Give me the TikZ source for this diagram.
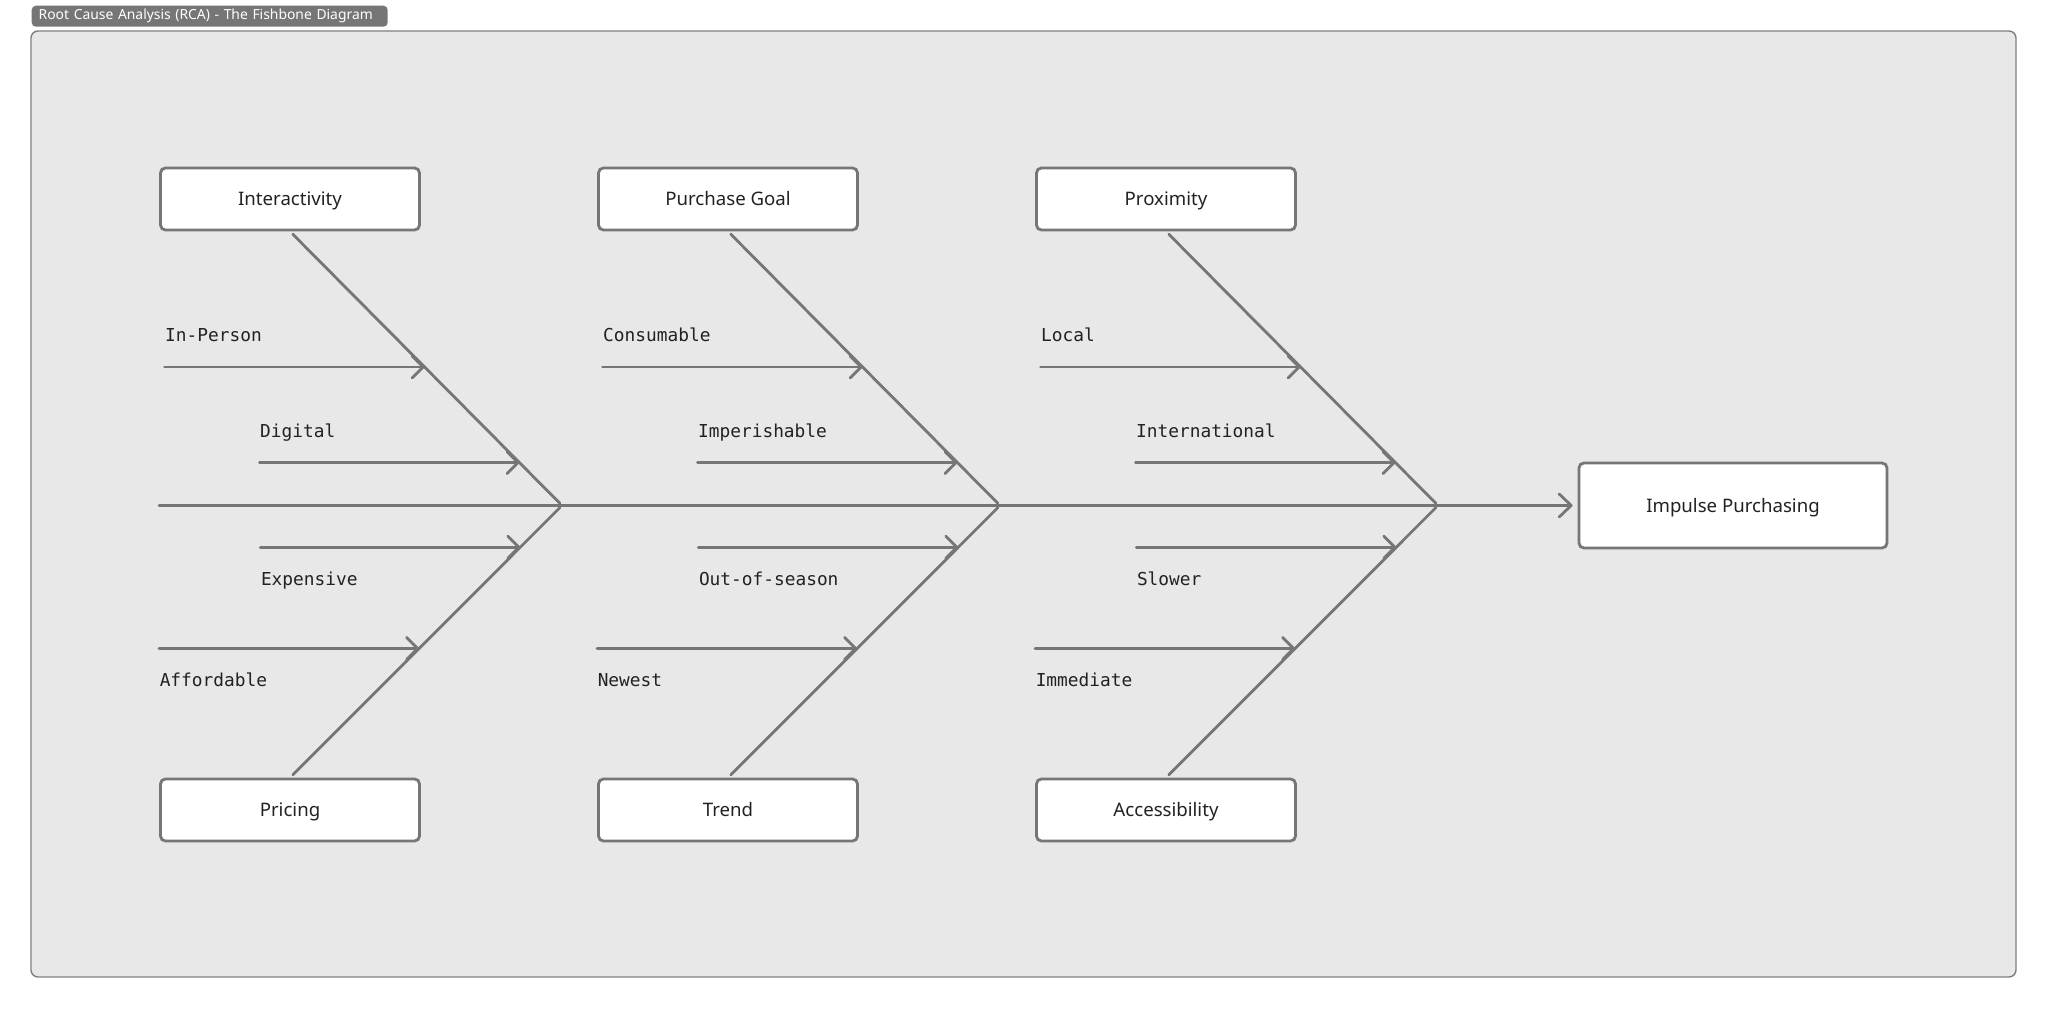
\documentclass[tikz,border=0pt]{standalone}
\usepackage{fontspec}
\setmainfont{Noto Sans}
\newfontfamily\monofont{DejaVu Sans Mono}
\usetikzlibrary{
    arrows.meta,
    calc
}

\definecolor{bonegray}{HTML}{767676}
\definecolor{panelgray}{HTML}{E8E8E8}
\definecolor{textdark}{HTML}{222222}

\tikzset{
    cause/.style={draw=bonegray, line width=0.8pt, fill=white, rounded corners=1.4pt,
        minimum width=2.59cm, minimum height=0.62cm, text=textdark,
        text height=3.8pt, text depth=0pt,
        font=\fontsize{5.3}{6}\selectfont},
    bone/.style={draw=bonegray, line width=0.8pt, line cap=round,
        shorten <=0.04cm, shorten >=0.03cm},
    spine/.style={draw=bonegray, line width=0.8pt, line cap=round, shorten >=0.05cm,
        -{Straight Barb[length=1.2mm,width=2.3mm,round]}},
    subcause/.style={draw=bonegray, line width=0.8pt, line cap=round,
        -{Straight Barb[length=1.1mm,width=2.2mm,round]}},
    lbl/.style={text=textdark, font=\monofont\fontsize{5.07}{6}\selectfont,
        inner sep=0pt, anchor=west, text height=1.8mm, text depth=0.5mm}
}

\begin{document}
\begin{tikzpicture}
\useasboundingbox (0,0) rectangle (20.48,10.10);

% Panel and title tag
\draw[draw=gray, fill=panelgray, line width=0.4pt, rounded corners=2pt] (0.31,0.33) rectangle (20.16,9.79);
\node[fill=bonegray, rounded corners=1.2pt, text=white, font=\fontsize{3.95}{4}\selectfont,
    anchor=north west, text width=3.42cm, inner xsep=0.07cm, inner ysep=0pt,
    minimum height=0.21cm, align=left] (tag) at (0.31,10.05) {Root Cause Analysis (RCA) - The Fishbone Diagram};

% Effect and spine
\node[cause, minimum width=3.08cm, minimum height=0.85cm] (effect) at (17.33,5.045) {Impulse Purchasing};
\coordinate (tail) at (1.59,5.045);
\coordinate (j1) at (5.62,5.045);
\coordinate (j2) at (10.00,5.045);
\coordinate (j3) at (14.38,5.045);
\draw[spine] (tail) -- (effect.west);

% Cause boxes
\node[cause] (interactivity) at (2.90,8.11) {Interactivity};
\node[cause] (pricing) at (2.90,2.00) {Pricing};
\node[cause] (goal) at (7.28,8.11) {Purchase Goal};
\node[cause] (trend) at (7.28,2.00) {Trend};
\node[cause] (proximity) at (11.66,8.11) {Proximity};
\node[cause] (access) at (11.66,2.00) {Accessibility};

% Bones
\draw[bone] (interactivity.south) -- (j1);
\draw[bone] (pricing.north) -- (j1);
\draw[bone] (goal.south) -- (j2);
\draw[bone] (trend.north) -- (j2);
\draw[bone] (proximity.south) -- (j3);
\draw[bone] (access.north) -- (j3);

% Points on the bones
\coordinate (inperson) at ($(interactivity.south)!0.4945!(j1)$);
\coordinate (digital) at ($(interactivity.south)!0.8436!(j1)$);
\coordinate (expensive) at ($(pricing.north)!0.8467!(j1)$);
\coordinate (affordable) at ($(pricing.north)!0.4745!(j1)$);
\coordinate (consumable) at ($(goal.south)!0.4945!(j2)$);
\coordinate (imperishable) at ($(goal.south)!0.8436!(j2)$);
\coordinate (outseason) at ($(trend.north)!0.8467!(j2)$);
\coordinate (newest) at ($(trend.north)!0.4745!(j2)$);
\coordinate (local) at ($(proximity.south)!0.4945!(j3)$);
\coordinate (international) at ($(proximity.south)!0.8436!(j3)$);
\coordinate (slower) at ($(access.north)!0.8467!(j3)$);
\coordinate (immediate) at ($(access.north)!0.4745!(j3)$);

% Sub-causes, group 1
\draw[subcause] ([xshift=-2.6cm]inperson) coordinate (inperson-s) -- (inperson);
\draw[subcause] ([xshift=-2.6cm]digital) coordinate (digital-s) -- (digital);
\draw[subcause] ([xshift=-2.6cm]expensive) coordinate (expensive-s) -- (expensive);
\draw[subcause] ([xshift=-2.6cm]affordable) coordinate (affordable-s) -- (affordable);
\node[lbl] (l-inperson) at ([yshift=0.32cm]inperson-s) {In-Person};
\node[lbl] (l-digital) at ([yshift=0.32cm]digital-s) {Digital};
\node[lbl] (l-expensive) at ([yshift=-0.32cm]expensive-s) {Expensive};
\node[lbl] (l-affordable) at ([yshift=-0.32cm]affordable-s) {Affordable};

% Sub-causes, group 2
\draw[subcause] ([xshift=-2.6cm]consumable) coordinate (consumable-s) -- (consumable);
\draw[subcause] ([xshift=-2.6cm]imperishable) coordinate (imperishable-s) -- (imperishable);
\draw[subcause] ([xshift=-2.6cm]outseason) coordinate (outseason-s) -- (outseason);
\draw[subcause] ([xshift=-2.6cm]newest) coordinate (newest-s) -- (newest);
\node[lbl] (l-consumable) at ([yshift=0.32cm]consumable-s) {Consumable};
\node[lbl] (l-imperishable) at ([yshift=0.32cm]imperishable-s) {Imperishable};
\node[lbl] (l-outseason) at ([yshift=-0.32cm]outseason-s) {Out-of-season};
\node[lbl] (l-newest) at ([yshift=-0.32cm]newest-s) {Newest};

% Sub-causes, group 3
\draw[subcause] ([xshift=-2.6cm]local) coordinate (local-s) -- (local);
\draw[subcause] ([xshift=-2.6cm]international) coordinate (international-s) -- (international);
\draw[subcause] ([xshift=-2.6cm]slower) coordinate (slower-s) -- (slower);
\draw[subcause] ([xshift=-2.6cm]immediate) coordinate (immediate-s) -- (immediate);
\node[lbl] (l-local) at ([yshift=0.32cm]local-s) {Local};
\node[lbl] (l-international) at ([yshift=0.32cm]international-s) {International};
\node[lbl] (l-slower) at ([yshift=-0.32cm]slower-s) {Slower};
\node[lbl] (l-immediate) at ([yshift=-0.32cm]immediate-s) {Immediate};

\end{tikzpicture}
\end{document}
